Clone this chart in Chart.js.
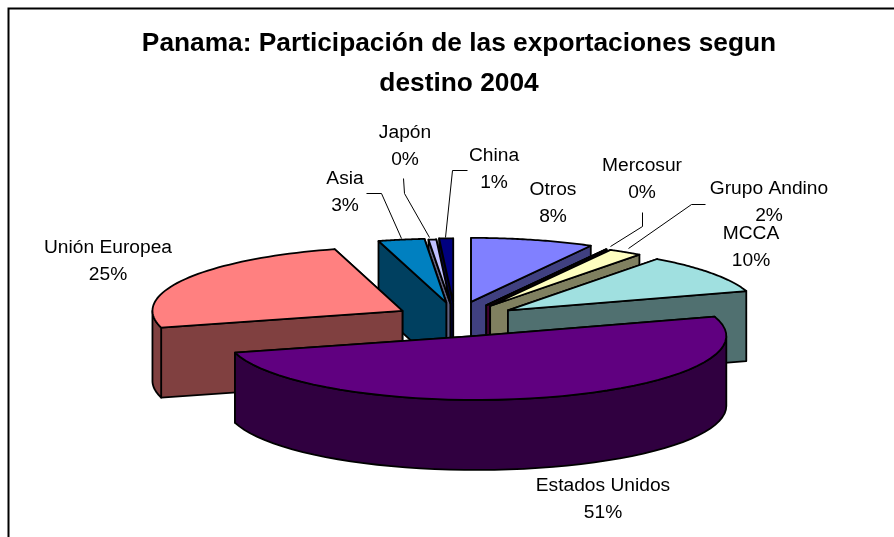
<!DOCTYPE html>
<html><head><meta charset="utf-8">
<style>html,body{margin:0;padding:0;background:#fff;overflow:hidden}#wrap{width:894px;height:537px}canvas{display:block}</style>
<script src="https://cdn.jsdelivr.net/npm/chart.js@4"></script>
</head><body><div id="wrap"><canvas id="c" width="894" height="537"></canvas></div>
<script>
const categories = ['Otros','Mercosur','Grupo Andino','MCCA','Estados Unidos','Unión Europea','Asia','Japón','China'];
const shares = [8, 0.05, 2.2, 10, 51, 25, 3, 0.5, 0.9];
const shownPercent = ['8%','0%','2%','10%','51%','25%','3%','0%','1%'];
const topColors = ['#8080FF','#800060','#FFFFC0','#A0E0E0','#600080','#FF8080','#0080C0','#C0C0FF','#000080'];
const wallColors = ['#404080','#400030','#808060','#507070','#300040','#804040','#004060','#606080','#000040'];
const titleLines = ['Panama: Participación de las exportaciones segun','destino 2004'];

// layout of the 3D projection (pixels)
const centre = {x: 455, y: 320}, radiusX = 250, radiusY = 64, explode = 65, depth = 70;
const sliceNudge = [[0,-2],[0,0],[0,0],[0,0],[3,0],[4,-1],[3,-1],[0,0],[0,-1]];
const paintOrder = [8, 7, 6, 0, 1, 2, 3, 5, 4];
const labelAnchors = [[553,190],[642,166],[769,189],[751,234],[603,486],[108,248],[345,179],[405,133],[494,156]];
const leaders = [
  [[366,193],[381,193],[401,238]],
  [[403,178],[404,193],[429,237]],
  [[467,170],[452,170],[445,237]],
  [[642,212],[642,226],[610,246]],
  [[705,204],[691,204],[628,248]]
];

const pie3d = {
  id: 'pie3d',
  beforeDraw(chart) {
    const c = chart.ctx;
    c.save(); c.fillStyle = '#fff'; c.fillRect(0,0,chart.width,chart.height);
    c.strokeStyle = '#000'; c.lineWidth = 2;
    c.strokeRect(8.5, 8.5, 960, 560);
    c.restore();
  },
  beforeDatasetsDraw(chart) {
    const c = chart.ctx, arcs = chart.getDatasetMeta(0).data;
    c.save(); c.lineJoin = 'round'; c.strokeStyle = '#000'; c.lineWidth = 1.8;
    for (const i of paintOrder) {
      const arc = arcs[i], a0 = arc.startAngle, a1 = arc.endAngle, mid = (a0 + a1) / 2;
      const ox = centre.x + sliceNudge[i][0] + explode * Math.cos(mid), oy = centre.y + sliceNudge[i][1] + explode * radiusY / radiusX * Math.sin(mid);
      const rim = a => [ox + radiusX * Math.cos(a), oy + radiusY * Math.sin(a)];
      const poly = (pts, fill) => {
        c.beginPath(); pts.forEach((p, k) => k ? c.lineTo(p[0], p[1]) : c.moveTo(p[0], p[1])); c.closePath();
        if (fill) { c.fillStyle = fill; c.fill(); }
        c.stroke();
      };
      const radial = [a0, a1].sort((p, q) => rim(p)[1] - rim(q)[1]);
      for (const a of radial) {
        const r = rim(a);
        poly([[ox, oy], r, [r[0], r[1] + depth], [ox, oy + depth]], wallColors[i]);
      }
      const from = Math.max(a0, 0), to = Math.min(a1, Math.PI);
      if (to > from) {
        const top = [], n = 48;
        for (let k = 0; k <= n; k++) top.push(rim(from + (to - from) * k / n));
        poly(top.concat(top.slice().reverse().map(p => [p[0], p[1] + depth])), wallColors[i]);
      }
      // top face: the library's own arc element under the projection
      c.save();
      c.translate(ox, oy); c.scale(radiusX / arc.outerRadius, radiusY / arc.outerRadius); c.translate(-arc.x, -arc.y);
      arc.draw(c);
      c.restore();
      c.beginPath(); c.moveTo(ox, oy);
      for (let k = 0; k <= 48; k++) { const p = rim(a0 + (a1 - a0) * k / 48); c.lineTo(p[0], p[1]); }
      c.closePath(); c.stroke();
    }
    c.restore();
    return false;
  },
  afterDraw(chart) {
    const c = chart.ctx;
    c.save();
    c.strokeStyle = '#000'; c.lineWidth = 1;
    for (const l of leaders) {
      c.beginPath(); l.forEach((p, k) => k ? c.lineTo(p[0] + .5, p[1] + .5) : c.moveTo(p[0] + .5, p[1] + .5)); c.stroke();
    }
    c.fillStyle = '#000'; c.font = '19.2px "Liberation Sans"'; c.textAlign = 'center'; c.textBaseline = 'middle';
    categories.forEach((name, i) => {
      const [x, y] = labelAnchors[i];
      c.fillText(name, x, y); c.fillText(shownPercent[i], x, y + 27);
    });
    c.restore();
  }
};

new Chart(document.getElementById('c'), {
  type: 'pie',
  data: { labels: categories, datasets: [{ data: shares, backgroundColor: topColors, borderWidth: 0 }] },
  options: {
    responsive: false, animation: false,
    layout: { padding: { left: 24, top: 24 } },
    plugins: {
      legend: { display: false }, tooltip: { enabled: false },
      title: { display: true, text: titleLines, color: '#000', font: { family: '"Liberation Sans"', size: 26.3, weight: 'bold', lineHeight: 1.52 }, padding: 0 }
    }
  },
  plugins: [pie3d]
});
</script></body></html>
